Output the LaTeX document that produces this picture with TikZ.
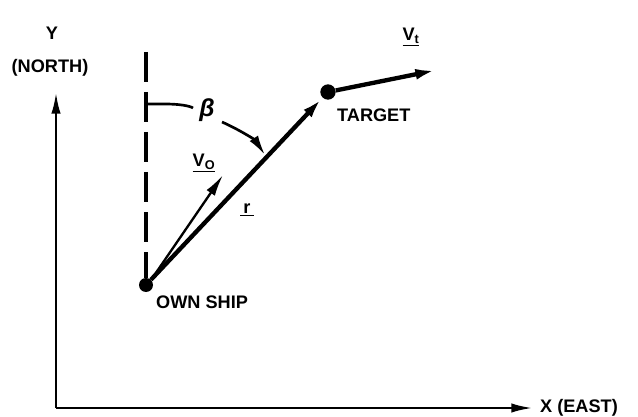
\documentclass[tikz,border=0pt]{standalone}
\usepackage{fontspec}
\setmainfont{Liberation Sans}
\usetikzlibrary{arrows.meta}
\begin{document}
\begin{tikzpicture}[
        x=0.3mm,
        y=-0.3mm,
        font=\fontsize{15.5}{17}\selectfont\bfseries,
        vec/.style={line width=1.3mm, -{Latex[length=6.5mm,width=3.2mm]}},
        thinvec/.style={line width=0.7mm, -{Latex[length=6.5mm,width=3mm]}},
        dot/.style={circle, fill=black, inner sep=0pt, minimum size=#1}
    ]
    \useasboundingbox (0,0) rectangle (638,417);
    \coordinate (O) at (56,408);
    \coordinate (Ytip) at (56,92);
    \coordinate (Xtip) at (533,408);
    \coordinate (N) at (146,52);
    \coordinate (Vo) at (223,175);
    \coordinate (Vt) at (437,70);
    \coordinate (B1) at (146,104);
    \coordinate (B2) at (222,122);
    \coordinate (B3) at (265,155);

    % axes
    \draw[line width=0.8mm, -{Latex[length=6.5mm,width=2.8mm]}] (O) -- (Ytip);
    \draw[line width=0.8mm, -{Latex[length=6.5mm,width=2.8mm]}] (O) -- (Xtip);
    \node (ylab) at (52,33) {Y};
    \node (north) at (50,68) {(NORTH)};
    \node[anchor=west] (east) at (536,408) {X (EAST)};

    % north reference
    \node[dot=4.2mm] (ship) at (146,285) {};
    \node[dot=4.6mm] (target) at (328,92) {};
    \draw[line width=1mm, dash pattern=on 9mm off 3mm] (N) -- (ship);

    % vectors
    \draw[vec] (ship) -- (target);
    \draw[vec] (target) -- (Vt);
    \draw[thinvec] (ship.north east) -- (Vo);

    % bearing angle
    \draw[line width=0.8mm] (B1) -- (165,104) .. controls (180,104) and (190,106) .. (193,108);
    \node (beta) at (207,110) {\fontsize{21}{23}\selectfont\itshape β};
    \draw[line width=0.8mm, -{Latex[length=6mm,width=3mm]}] (B2) .. controls (240,130) and (255,140) .. (B3);

    % labels
    \node (vol) at (204,163) {\underline{V\textsubscript{O}}};
    \node (vtl) at (411,37) {\underline{V\textsubscript{t}}};
    \node (rl) at (247,210) {\underline{\,r\,}};
    \node[anchor=west] (tl) at (333,115) {TARGET};
    \node[anchor=west] (sl) at (152,302) {OWN SHIP};
\end{tikzpicture}
\end{document}
